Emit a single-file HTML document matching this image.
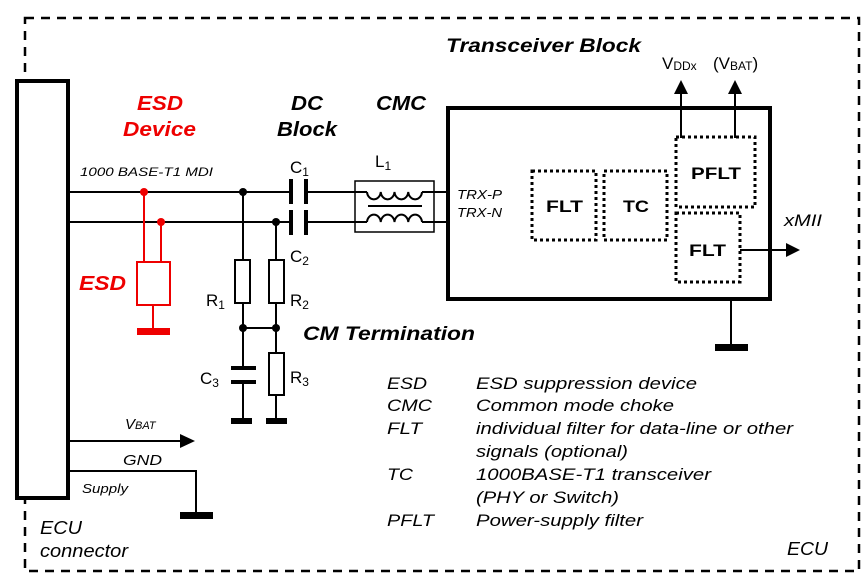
<!DOCTYPE html>
<html><head><meta charset="utf-8"><style>
html,body{margin:0;padding:0;background:#fff}
svg{display:block}
text{font-family:"Liberation Sans",Arial,sans-serif;font-style:italic}
.b{font-weight:bold}
.n text{font-style:normal}
</style></head><body>
<svg width="868" height="581" viewBox="0 0 868 581" xmlns="http://www.w3.org/2000/svg">
<rect x="25" y="18" width="834" height="553" fill="none" stroke="#000" stroke-width="2.5" stroke-dasharray="9,7"/>
<rect x="17" y="81" width="51" height="417" fill="#fff" stroke="#000" stroke-width="4"/>
<g stroke="#000" stroke-width="2" fill="none">
<line x1="68" y1="192" x2="291" y2="192"/>
<line x1="68" y1="222" x2="291" y2="222"/>
<line x1="306" y1="192" x2="367" y2="192"/>
<line x1="306" y1="222" x2="367" y2="222"/>
<line x1="422" y1="192" x2="448" y2="192"/>
<line x1="422" y1="222" x2="448" y2="222"/>
<rect x="355" y="181" width="79" height="51" stroke-width="1.5"/>
<path d="M367 192 a6.9 8 0 0 0 13.75 0 a6.9 8 0 0 0 13.75 0 a6.9 8 0 0 0 13.75 0 a6.9 8 0 0 0 13.75 0"/>
<path d="M367 222 a6.9 8 0 0 1 13.75 0 a6.9 8 0 0 1 13.75 0 a6.9 8 0 0 1 13.75 0 a6.9 8 0 0 1 13.75 0"/>
<line x1="368" y1="206" x2="422" y2="206" stroke-width="2"/>
<line x1="243" y1="192" x2="243" y2="260"/>
<line x1="243" y1="303" x2="243" y2="368"/>
<line x1="243" y1="382" x2="243" y2="420"/>
<line x1="276" y1="222" x2="276" y2="260"/>
<line x1="276" y1="303" x2="276" y2="353"/>
<line x1="276" y1="395" x2="276" y2="420"/>
<line x1="243" y1="328" x2="276" y2="328"/>
<rect x="235" y="260" width="15" height="43"/>
<rect x="269" y="260" width="15" height="43"/>
<rect x="269" y="353" width="15" height="42"/>
<line x1="68" y1="441" x2="180" y2="441"/>
<polyline points="68,471 196,471 196,514"/>
<line x1="681" y1="138" x2="681" y2="92"/>
<line x1="735" y1="138" x2="735" y2="92"/>
<line x1="740" y1="250" x2="786" y2="250"/>
<line x1="731" y1="299" x2="731" y2="346"/>
</g>
<rect x="448" y="108" width="322" height="191" fill="none" stroke="#000" stroke-width="4"/>
<g fill="none" stroke="#000" stroke-width="3" stroke-dasharray="3,3">
<rect x="532" y="171" width="64" height="69"/>
<rect x="604" y="171" width="63" height="69"/>
<rect x="676" y="137" width="79" height="70"/>
<rect x="676" y="213" width="64" height="69"/>
</g>
<g fill="#000">
<rect x="289" y="179" width="4" height="25"/><rect x="304" y="179" width="4" height="25"/>
<rect x="289" y="210" width="4" height="25"/><rect x="304" y="210" width="4" height="25"/>
<rect x="231" y="366" width="25" height="4"/><rect x="231" y="380" width="25" height="4"/>
<rect x="231" y="418" width="21" height="6"/><rect x="266" y="418" width="21" height="6"/>
<rect x="180" y="512" width="33" height="7"/>
<rect x="715" y="344" width="33" height="7"/>
<circle cx="243" cy="192" r="4"/><circle cx="276" cy="222" r="4"/>
<circle cx="243" cy="328" r="4"/><circle cx="276" cy="328" r="4"/>
<polygon points="681,80 674,94 688,94"/>
<polygon points="735,80 728,94 742,94"/>
<polygon points="800,250 786,243 786,257"/>
<polygon points="195,441 180,434 180,448"/>
</g>
<g stroke="#e00" stroke-width="2" fill="none">
<line x1="144" y1="192" x2="144" y2="262"/>
<line x1="161" y1="222" x2="161" y2="262"/>
<rect x="137" y="262" width="33" height="43"/>
<line x1="153" y1="305" x2="153" y2="328"/>
</g>
<g fill="#e00">
<rect x="137" y="328" width="33" height="7"/>
<circle cx="144" cy="192" r="4"/><circle cx="161" cy="222" r="4"/>
</g>
<g font-size="20" class="b" lengthAdjust="spacingAndGlyphs">
<text x="137" y="110" fill="#e00" textLength="46" lengthAdjust="spacingAndGlyphs">ESD</text>
<text x="123" y="136" fill="#e00" textLength="73" lengthAdjust="spacingAndGlyphs">Device</text>
<text x="79" y="290" fill="#e00" textLength="47" lengthAdjust="spacingAndGlyphs">ESD</text>
<text x="291" y="110" textLength="32" lengthAdjust="spacingAndGlyphs">DC</text>
<text x="277" y="136" textLength="60" lengthAdjust="spacingAndGlyphs">Block</text>
<text x="376" y="110" textLength="50" lengthAdjust="spacingAndGlyphs">CMC</text>
</g>
<text x="303" y="340" font-size="19" class="b" textLength="172" lengthAdjust="spacingAndGlyphs">CM Termination</text>
<text x="446" y="52" font-size="19" class="b" textLength="195" lengthAdjust="spacingAndGlyphs">Transceiver Block</text>
<text x="80" y="176" font-size="12" textLength="133" lengthAdjust="spacingAndGlyphs">1000 BASE-T1 MDI</text>
<g font-size="17" class="n">
<text x="290" y="173">C<tspan font-size="12" dy="3">1</tspan></text>
<text x="375" y="167">L<tspan font-size="12" dy="3">1</tspan></text>
<text x="290" y="262">C<tspan font-size="12" dy="3">2</tspan></text>
<text x="206" y="306">R<tspan font-size="12" dy="3">1</tspan></text>
<text x="290" y="306">R<tspan font-size="12" dy="3">2</tspan></text>
<text x="200" y="384">C<tspan font-size="12" dy="3">3</tspan></text>
<text x="290" y="383">R<tspan font-size="12" dy="3">3</tspan></text>
<text x="662" y="69">V<tspan font-size="12" dy="1">DDx</tspan></text>
<text x="713" y="69">(V<tspan font-size="12" dy="1">BAT</tspan><tspan dy="-1">)</tspan></text>
</g>
<g font-size="17" class="b n">
<text x="546" y="212" textLength="37" lengthAdjust="spacingAndGlyphs">FLT</text>
<text x="623" y="212" textLength="26" lengthAdjust="spacingAndGlyphs">TC</text>
<text x="691" y="179" textLength="50" lengthAdjust="spacingAndGlyphs">PFLT</text>
<text x="689" y="256" textLength="37" lengthAdjust="spacingAndGlyphs">FLT</text>
</g>
<text x="457" y="199" font-size="13" textLength="45" lengthAdjust="spacingAndGlyphs">TRX-P</text>
<text x="457" y="217" font-size="13" textLength="45" lengthAdjust="spacingAndGlyphs">TRX-N</text>
<text x="784" y="226" font-size="17" textLength="38" lengthAdjust="spacingAndGlyphs">xMII</text>
<text x="125" y="429" font-size="15">V<tspan font-size="11">BAT</tspan></text>
<text x="123" y="465" font-size="15" textLength="39" lengthAdjust="spacingAndGlyphs">GND</text>
<text x="82" y="493" font-size="13" textLength="46" lengthAdjust="spacingAndGlyphs">Supply</text>
<text x="40" y="534" font-size="18" textLength="42" lengthAdjust="spacingAndGlyphs">ECU</text>
<text x="40" y="557" font-size="18" textLength="88" lengthAdjust="spacingAndGlyphs">connector</text>
<text x="787" y="555" font-size="18" textLength="41" lengthAdjust="spacingAndGlyphs">ECU</text>
<g font-size="17">
<text x="387" y="389" textLength="40" lengthAdjust="spacingAndGlyphs">ESD</text><text x="476" y="389" textLength="221" lengthAdjust="spacingAndGlyphs">ESD suppression device</text>
<text x="387" y="411" textLength="45" lengthAdjust="spacingAndGlyphs">CMC</text><text x="476" y="411" textLength="198" lengthAdjust="spacingAndGlyphs">Common mode choke</text>
<text x="387" y="434" textLength="35" lengthAdjust="spacingAndGlyphs">FLT</text><text x="476" y="434" textLength="317" lengthAdjust="spacingAndGlyphs">individual filter for data-line or other</text>
<text x="476" y="457" textLength="152" lengthAdjust="spacingAndGlyphs">signals (optional)</text>
<text x="387" y="480" textLength="26" lengthAdjust="spacingAndGlyphs">TC</text><text x="476" y="480" textLength="235" lengthAdjust="spacingAndGlyphs">1000BASE-T1 transceiver</text>
<text x="476" y="503" textLength="143" lengthAdjust="spacingAndGlyphs">(PHY or Switch)</text>
<text x="387" y="526" textLength="47" lengthAdjust="spacingAndGlyphs">PFLT</text><text x="476" y="526" textLength="167" lengthAdjust="spacingAndGlyphs">Power-supply filter</text>
</g>
</svg>
</body></html>
